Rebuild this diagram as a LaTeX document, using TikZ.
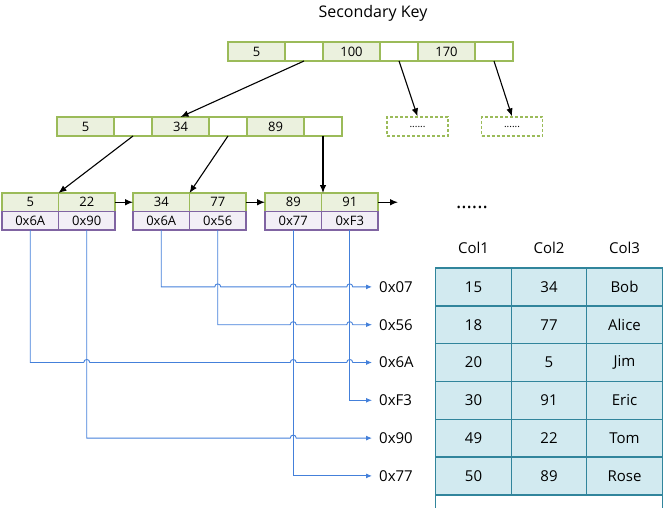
\documentclass[tikz,border=0pt]{standalone}
\usepackage{fontspec}
\setmainfont{Open Sans}
\usetikzlibrary{arrows.meta,positioning}
\definecolor{keygreen}{RGB}{155,187,89}
\definecolor{keyfill}{RGB}{235,241,222}
\definecolor{addrpurple}{RGB}{128,100,162}
\definecolor{addrfill}{RGB}{242,239,246}
\definecolor{rowteal}{RGB}{49,133,156}
\definecolor{rowfill}{RGB}{210,234,240}
\definecolor{ptrblue}{RGB}{68,128,218}
\tikzset{
  keycell/.style={draw=keygreen, fill=keyfill, line width=1.3pt, outer sep=0pt, inner sep=0pt,
    minimum width=57pt, minimum height=19pt, font=\fontsize{13}{15}\selectfont},
  ptrcell/.style={keycell, fill=white, minimum width=38pt},
  morebox/.style={draw=keygreen, dashed, dash pattern=on 3pt off 2pt, line width=1.3pt,
    minimum width=61pt, minimum height=19pt, inner sep=0pt, font=\fontsize{10}{12}\selectfont},
  leafkey/.style={keycell, minimum width=56.5pt, minimum height=18.5pt},
  leafaddr/.style={leafkey, draw=addrpurple, fill=addrfill},
  tcell/.style={draw=rowteal, fill=rowfill, line width=1.4pt, outer sep=0pt, inner sep=0pt,
    minimum width=75.5pt, minimum height=37.8pt, font=\fontsize{15}{17}\selectfont},
  addrlbl/.style={anchor=west, inner xsep=7pt, inner ysep=0pt, font=\fontsize{15}{17}\selectfont},
  treearrow/.style={-{Latex[length=8pt,width=6.5pt]}, line width=1.1pt},
  rowptr/.style={-{Latex[length=6pt,width=5pt]}, draw=ptrblue, line width=0.9pt}
}
% bump over a crossing pointer line
\newcommand{\ptrhop}[2]{-- ([xshift=-3pt]#1.south |- #2.west) .. controls +(0,-4) and +(0,-4) .. ([xshift=3pt]#1.south |- #2.west)}

\begin{document}
\begin{tikzpicture}[x=1pt,y=-1pt]
\useasboundingbox (0,0) rectangle (664,508);
\node[font=\fontsize{16}{18}\selectfont] (title) at (373,13) {Secondary Key};

% root
\node[keycell] (t5) at (256.5,51.5) {5};
\node[ptrcell, right=0pt of t5] (tp1) {};
\node[keycell, right=0pt of tp1] (t100) {100};
\node[ptrcell, right=0pt of t100] (tp2) {};
\node[keycell, right=0pt of tp2] (t170) {170};
\node[ptrcell, right=0pt of t170] (tp3) {};

% inner level
\node[keycell] (s5) at (85.5,126.5) {5};
\node[ptrcell, right=0pt of s5] (sp1) {};
\node[keycell, right=0pt of sp1] (s34) {34};
\node[ptrcell, right=0pt of s34] (sp2) {};
\node[keycell, right=0pt of sp2] (s89) {89};
\node[ptrcell, right=0pt of s89] (sp3) {};
\node[morebox] (d1) at (417.5,126.5) {......};
\node[morebox] (d2) at (512,126.5) {......};

% leaves
\node[leafkey] (k1a) at (30.25,202.25) {5};
\node[leafkey, right=0pt of k1a] (k1b) {22};
\node[leafaddr, below=0pt of k1a] (p1a) {0x6A};
\node[leafaddr, below=0pt of k1b] (p1b) {0x90};
\node[leafkey] (k2a) at (161.25,202.25) {34};
\node[leafkey, right=0pt of k2a] (k2b) {77};
\node[leafaddr, below=0pt of k2a] (p2a) {0x6A};
\node[leafaddr, below=0pt of k2b] (p2b) {0x56};
\node[leafkey] (k3a) at (293.25,202.25) {89};
\node[leafkey, right=0pt of k3a] (k3b) {91};
\node[leafaddr, below=0pt of k3a] (p3a) {0x77};
\node[leafaddr, below=0pt of k3b] (p3b) {0xF3};
\coordinate (nxt) at (398,202.25);
\node[font=\fontsize{20}{20}\selectfont] (etc) at (472,207) {......};

\draw[treearrow] (tp1.south) -- (s34.north);
\draw[treearrow] (tp2.south) -- (d1.north);
\draw[treearrow] (tp3.south) -- (d2.north);
\draw[treearrow] (sp1.south) -- (k1a.north east);
\draw[treearrow] (sp2.south) -- (k2a.north east);
\draw[treearrow] (sp3.south) -- (sp3.south |- k3a.north);
\draw[treearrow] (k1b.east) -- (k2a.west);
\draw[treearrow] (k2b.east) -- (k3a.west);
\draw[treearrow] (k3b.east) -- (nxt);

% table
\node[font=\fontsize{15}{17}\selectfont] (h1) at (473.5,248) {Col1};
\node[font=\fontsize{15}{17}\selectfont] (h2) at (549,248) {Col2};
\node[font=\fontsize{15}{17}\selectfont] (h3) at (624.5,248) {Col3};
\foreach \adr/\ca/\cb/\cc [count=\i] in {0x07/15/34/Bob, 0x56/18/77/Alice, 0x6A/20/5/Jim,
    0xF3/30/91/Eric, 0x90/49/22/Tom, 0x77/50/89/Rose}{
  \node[tcell] (r\i-a) at (473.5,{249.1+37.8*\i}) {\ca};
  \node[tcell, right=0pt of r\i-a] (r\i-b) {\cb};
  \node[tcell, right=0pt of r\i-b] (r\i-c) {\cc};
  \node[addrlbl] (a\i) at (372,{249.1+37.8*\i}) {\adr};
}
\node[tcell, fill=white, minimum width=226.5pt, anchor=north west] (rlast) at (r6-a.south west) {};

% pointers
\draw[rowptr] (p2a.south) -- (p2a.south |- a1.west) \ptrhop{p2b}{a1} \ptrhop{p3a}{a1} \ptrhop{p3b}{a1} -- (a1.west);
\draw[rowptr] (p2b.south) -- (p2b.south |- a2.west) \ptrhop{p3a}{a2} \ptrhop{p3b}{a2} -- (a2.west);
\draw[rowptr] (p1a.south) -- (p1a.south |- a3.west) \ptrhop{p1b}{a3} \ptrhop{p3a}{a3} \ptrhop{p3b}{a3} -- (a3.west);
\draw[rowptr] (p3b.south) |- (a4.west);
\draw[rowptr] (p1b.south) -- (p1b.south |- a5.west) \ptrhop{p3a}{a5} -- (a5.west);
\draw[rowptr] (p3a.south) |- (a6.west);
\end{tikzpicture}
\end{document}
